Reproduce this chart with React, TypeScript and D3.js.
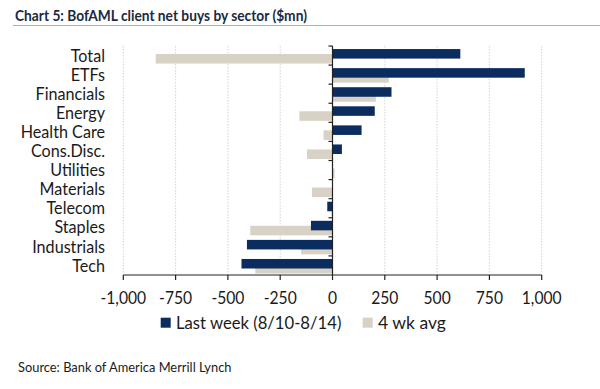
import React from "react";
import * as d3 from "d3";

const categories = ["Total", "ETFs", "Financials", "Energy", "Health Care", "Cons.Disc.", "Utilities", "Materials", "Telecom", "Staples", "Industrials", "Tech"];
const lastWeek = [611, 919, 282, 202, 139, 45, 0, 0, -25, -103, -409, -435];
const fourWkAvg = [-845, 269, 207, -158, -43, -122, 10, -98, -5, -393, -150, -369];
const xTicks = [-1000, -750, -500, -250, 0, 250, 500, 750, 1000];
const seriesNames = ["Last week (8/10-8/14)", "4 wk avg"];

const DARK = "#0b2c5f";
const LIGHT = "#d8d1c6";
const FONT = "Lato, 'Open Sans', sans-serif";

function T({ x, y, sx = 1, anchor = "start", size, weight = "normal", fill = "#1a1a1a", children }: any) {
  return (
    <text transform={`translate(${x},${y}) scale(${sx},1)`} fontSize={size} fontWeight={weight} textAnchor={anchor} fill={fill}>{children}</text>
  );
}

export default function App() {
  const W = 600, H = 389;
  const x = d3.scaleLinear().domain([-1000, 1000]).range([123.3, 541.7]);
  const y = d3.scaleBand().domain(categories).range([46, 275]).paddingInner(0);
  const bw = y.bandwidth();
  const fmt = (v: number) => d3.format(",")(v).replace("\u2212", "-");
  return (
    <svg width={W} height={H} style={{ position: "absolute", left: 0, top: 0, background: "#fff" }} fontFamily={FONT}>
      <T x={15} y={20.5} size={16} weight="bold" fill="#1b2a3f" sx={0.86}>Chart 5: BofAML client net buys by sector ($mn)</T>
      <line x1={13} x2={600} y1={25.5} y2={25.5} stroke="#9fb2c8" strokeWidth={1} />
      {xTicks.filter(t => t !== 0).map(t => (
        <line key={"g" + t} x1={x(t)} x2={x(t)} y1={46} y2={275} stroke="#c8c8c8" strokeWidth={0.8} strokeDasharray="1.5,1.5" />
      ))}
      {categories.map((c, i) => (
        <rect key={"l" + c} x={Math.min(x(0), x(fourWkAvg[i]))} y={(y(c) as number) + bw * 0.42} width={Math.abs(x(fourWkAvg[i]) - x(0))} height={bw * 0.5} fill={LIGHT} />
      ))}
      {categories.map((c, i) => (
        <rect key={"d" + c} x={Math.min(x(0), x(lastWeek[i]))} y={(y(c) as number) + bw * 0.16} width={Math.abs(x(lastWeek[i]) - x(0))} height={bw * 0.5} fill={DARK} />
      ))}
      <line x1={x(0)} x2={x(0)} y1={46} y2={275} stroke="#222" strokeWidth={1.2} />
      {categories.map(c => (
        <line key={"t" + c} x1={x(0) - 4} x2={x(0)} y1={y(c) as number} y2={y(c) as number} stroke="#222" strokeWidth={1.2} />
      ))}
      <line x1={x(-1000)} x2={x(1000)} y1={275} y2={275} stroke="#222" strokeWidth={1.2} />
      {xTicks.map(t => (
        <g key={"xt" + t}>
          <line x1={x(t)} x2={x(t)} y1={275} y2={280} stroke="#222" strokeWidth={1.2} />
          <T x={x(t)} y={304} size={17} anchor="middle" sx={0.92}>{fmt(t)}</T>
        </g>
      ))}
      {categories.map(c => (
        <T key={"c" + c} x={105} y={(y(c) as number) + bw / 2 + 6.2} size={17} anchor="end" sx={0.95}>{c}</T>
      ))}
      <rect x={160.7} y={317.7} width={10} height={10} fill={DARK} />
      <T x={176} y={328.5} size={17} sx={0.98}>{seriesNames[0]}</T>
      <rect x={362.7} y={317.7} width={10} height={10} fill={LIGHT} />
      <T x={378} y={328.5} size={17} sx={1.03}>{seriesNames[1]}</T>
      <T x={18} y={372} size={13} sx={0.99}>Source: Bank of America Merrill Lynch</T>
    </svg>
  );
}
